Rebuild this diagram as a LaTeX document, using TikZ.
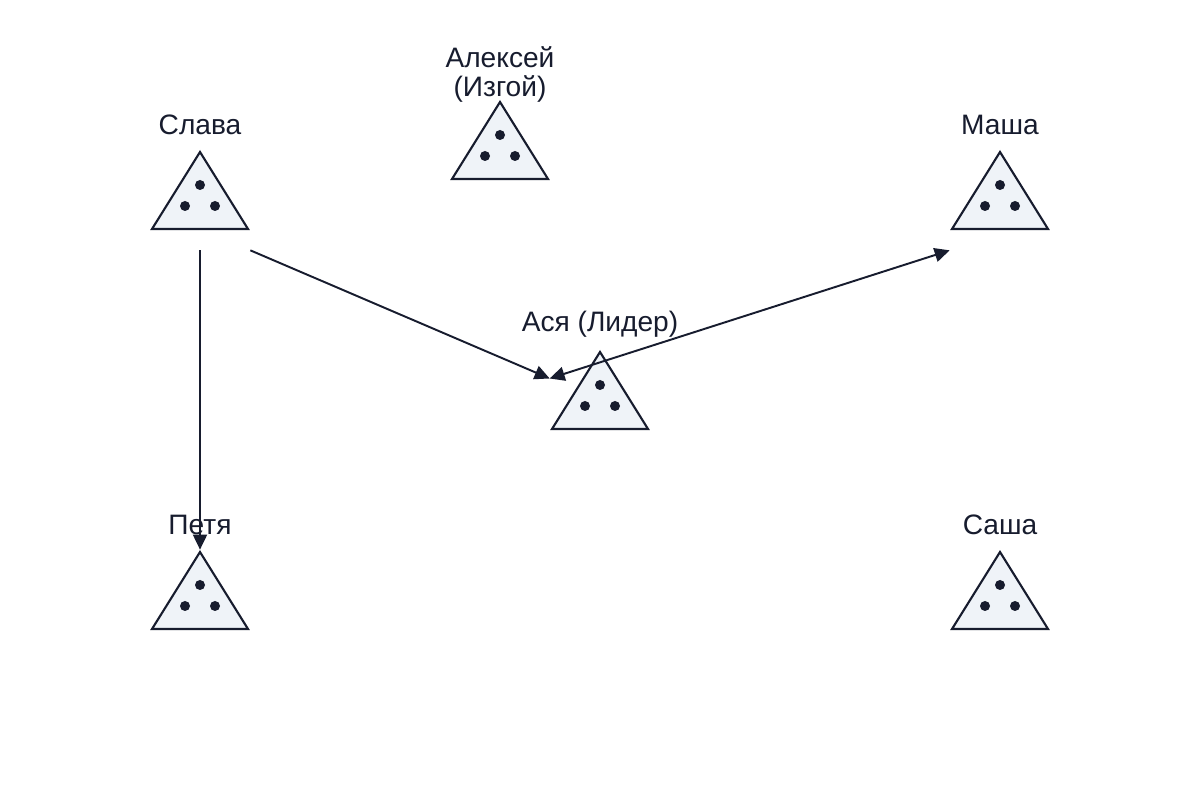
\documentclass[tikz,border=0pt]{standalone}
\usepackage{fontspec}
\setmainfont{Liberation Sans}
\usepackage{tikz}
\usetikzlibrary{arrows.meta,positioning}
\definecolor{ink}{HTML}{171C2E}
\definecolor{paleblue}{HTML}{EFF3F8}

\begin{document}
\begin{tikzpicture}
	[member/.style={rectangle,minimum size=2cm,inner sep=0pt,
		path picture={
			\coordinate (c) at (path picture bounding box.center);
			\draw[ink,fill=paleblue,line width=1.2pt,line join=miter]
			([shift={(-0.96,-0.58)}]c) -- ([shift={(0,0.96)}]c) -- ([shift={(0.96,-0.58)}]c) -- cycle;
			\fill[ink] ([shift={(0,0.30)}]c) circle (0.1);
			\fill[ink] ([shift={(-0.30,-0.12)}]c) circle (0.1);
			\fill[ink] ([shift={(0.30,-0.12)}]c) circle (0.1);
		}},
	membername/.style={anchor=center,yshift=0.50cm,text=ink,align=center,
		font=\fontsize{16}{16.8}\selectfont},
	link/.style={ink,line width=1.1pt,-{Triangle[length=0.3cm,width=0.28cm]}}]
	\useasboundingbox (0,0) rectangle (24,16);
	
	%members
	\node (slava) at (4,12) [member,label={[membername]90:Слава}] {};
	\node (aleksey) at (10,13) [member,label={[membername]90:{Алексей\\(Изгой)}}] {};
	\node (masha) at (20,12) [member,label={[membername]90:Маша}] {};
	\node (asya) at (12,8) [member,label={[membername]90:Ася (Лидер)}] {};
	\node (petya) at (4,4) [member,label={[membername]90:Петя}] {};
	\node (sasha) at (20,4) [member,label={[membername]90:Саша}] {};
	\coordinate (asyain) at ([yshift=0.43cm]asya.west);
	
	%links
	\draw[link] (slava.south) -- (petya.north);
	\draw[link] (slava.south east) -- (asyain);
	\draw[link,{Triangle[length=0.3cm,width=0.28cm]}-{Triangle[length=0.3cm,width=0.28cm]}] (asyain) -- (masha.south west);
\end{tikzpicture}
\end{document}
